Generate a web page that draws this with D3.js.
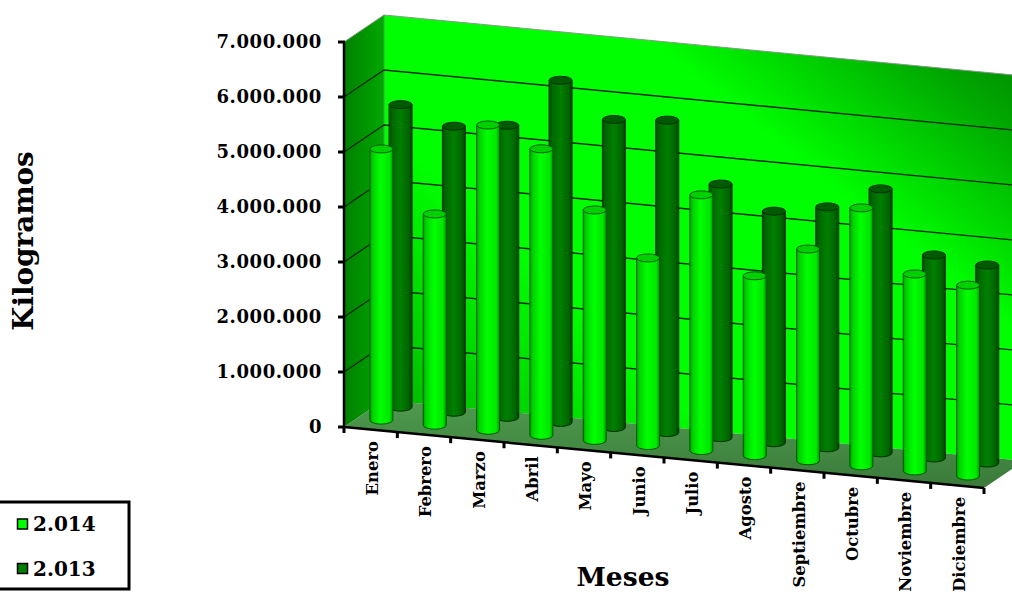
<!DOCTYPE html>
<html>
<head>
<meta charset="utf-8">
<script src="https://cdn.jsdelivr.net/npm/d3@7"></script>
<style>
  html, body { margin: 0; padding: 0; background: #fff; overflow: hidden; }
  text { font-family: "DejaVu Serif", serif; font-weight: bold; fill: #000; }
</style>
</head>
<body>
<svg id="chart" width="1012" height="594"></svg>
<script>
const months = ["Enero", "Febrero", "Marzo", "Abril", "Mayo", "Junio", "Julio", "Agosto", "Septiembre", "Octubre", "Noviembre", "Diciembre"];
const values2014 = [4930000, 3840000, 5550000, 5210000, 4190000, 3410000, 4650000, 3270000, 3850000, 4690000, 3580000, 3470000];
const values2013 = [5500000, 5200000, 5310000, 6220000, 5600000, 5680000, 4610000, 4210000, 4380000, 4800000, 3690000, 3600000];
const yTicks = [0, 1000000, 2000000, 3000000, 4000000, 5000000, 6000000, 7000000];
const seriesNames = ["2.014", "2.013"];

const svg = d3.select("#chart");
const defs = svg.append("defs");

// 3D box: front floor edge, depth vector and value height
const frontX = d3.scaleLinear().domain([0, 12]).range([344, 984]);
const frontY = d3.scaleLinear().domain([0, 12]).range([427, 488]);
const barHeight = d3.scaleLinear().domain([0, 7000000]).range([0, 385]);
const depthX = d3.scaleLinear().domain([0, 1]).range([0, 40]);
const depthY = d3.scaleLinear().domain([0, 1]).range([0, -27]);

// i = position along the months, d = depth into the box, v = value
const px = (i, d) => frontX(i) + depthX(d);
const py = (i, d, v) => frontY(i) + depthY(d) - barHeight(v);
const pt = (i, d, v) => [px(i, d), py(i, d, v)];
const poly = (pts) => "M" + pts.map((p) => p.join(",")).join("L") + "Z";

const maxValue = 7000000;

function gradient(id, stops, x1, y1, x2, y2, units) {
  const g = defs.append("linearGradient").attr("id", id)
    .attr("gradientUnits", units || "objectBoundingBox")
    .attr("x1", x1).attr("y1", y1).attr("x2", x2).attr("y2", y2);
  stops.forEach((s) => g.append("stop")
    .attr("offset", s[0]).attr("stop-color", s[1]).attr("stop-opacity", s.length > 2 ? s[2] : 1));
}
gradient("backWall", [[0.25, "#00ff00"], [0.5, "#00d800"], [0.8, "#00a800"], [1, "#009000"]], 850, 290, 1024, 70, "userSpaceOnUse");
gradient("backWallLow", [[0, "#00b800", 1], [1, "#00b800", 0]], 384, 400, 520, 250, "userSpaceOnUse");
gradient("sideWall", [[0, "#008000"], [1, "#00a800"]], 0, 0, 1, 0);
gradient("floor", [[0, "#4f9a4f"], [1, "#3a7a3a"]], 0, 0, 0, 1);
gradient("bar2014", [[0, "#00a000"], [0.12, "#00d000"], [0.45, "#00ff00"], [0.85, "#00e800"], [1, "#00a000"]], 0, 0, 1, 0);
gradient("bar2013", [[0, "#004c00"], [0.15, "#006800"], [0.5, "#008000"], [0.85, "#006400"], [1, "#004000"]], 0, 0, 1, 0);

// walls and floor
svg.append("path")
  .attr("d", poly([pt(0, 1, 0), pt(0, 1, maxValue), pt(12, 1, maxValue), pt(12, 1, 0)]))
  .attr("fill", "url(#backWall)");
svg.append("path")
  .attr("d", poly([pt(0, 1, 0), pt(0, 1, maxValue), pt(12, 1, maxValue), pt(12, 1, 0)]))
  .attr("fill", "url(#backWallLow)");
svg.append("path")
  .attr("d", poly([pt(0, 0, 0), pt(0, 0, maxValue), pt(0, 1, maxValue), pt(0, 1, 0)]))
  .attr("fill", "url(#sideWall)");
svg.append("path")
  .attr("d", poly([pt(0, 0, 0), pt(0, 1, 0), pt(12, 1, 0), pt(12, 0, 0)]))
  .attr("fill", "url(#floor)");

// wall edges
svg.append("path")
  .attr("d", "M" + pt(0, 0, maxValue).join(",") + "L" + pt(0, 1, maxValue).join(",") + "L" + pt(12, 1, maxValue).join(","))
  .attr("fill", "none").attr("stroke", "#8a9a8a").attr("stroke-width", 1);
svg.append("line")
  .attr("x1", px(0, 1)).attr("x2", px(0, 1))
  .attr("y1", py(0, 1, 0)).attr("y2", py(0, 1, maxValue))
  .attr("stroke", "#4f9a4f").attr("stroke-width", 1);

// gridlines over both walls
svg.append("g").selectAll("path")
  .data(yTicks.slice(1, -1))
  .join("path")
  .attr("d", (v) => "M" + pt(0, 0, v).join(",") + "L" + pt(0, 1, v).join(",") + "L" + pt(12, 1, v).join(","))
  .attr("fill", "none").attr("stroke", "#0a2a0a").attr("stroke-width", 1.4);

// cylinders
const bandOffset = 0.446; // months units from the tick to the bar axis
const barR = 11.5;
const barRy = 4;

function drawBars(values, depth, fill, cap, edge) {
  const g = svg.append("g");
  values.forEach((v, i) => {
    const cx = px(i + bandOffset, depth);
    const yBase = py(i + bandOffset, depth, 0);
    const yTop = py(i + bandOffset, depth, v);
    g.append("path")
      .attr("d", `M${cx - barR},${yTop}L${cx - barR},${yBase}A${barR},${barRy} 0 0 0 ${cx + barR},${yBase}L${cx + barR},${yTop}Z`)
      .attr("fill", fill).attr("stroke", edge).attr("stroke-width", 1);
    g.append("ellipse")
      .attr("cx", cx).attr("cy", yTop).attr("rx", barR).attr("ry", barRy)
      .attr("fill", cap).attr("stroke", edge).attr("stroke-width", 1);
  });
}
drawBars(values2013, 0.82, "url(#bar2013)", "#005a00", "#013001");
drawBars(values2014, 0.34, "url(#bar2014)", "#00d000", "#015a01");

// value axis
svg.append("line")
  .attr("x1", px(0, 0)).attr("x2", px(0, 0))
  .attr("y1", py(0, 0, 0)).attr("y2", py(0, 0, maxValue))
  .attr("stroke", "#000").attr("stroke-width", 2.5);
svg.append("g").selectAll("line")
  .data(yTicks)
  .join("line")
  .attr("x1", px(0, 0) - 6).attr("x2", px(0, 0) + 1)
  .attr("y1", (v) => py(0, 0, v)).attr("y2", (v) => py(0, 0, v))
  .attr("stroke", "#000").attr("stroke-width", 3);
svg.append("g").selectAll("text")
  .data(yTicks)
  .join("text")
  .attr("x", 322)
  .attr("y", (v) => py(0, 0, v))
  .attr("dy", "0.36em")
  .attr("text-anchor", "end")
  .attr("font-size", 18)
  .attr("letter-spacing", 0.6)
  .text((v) => d3.format(",")(v).replace(/,/g, "."));

// month axis
svg.append("line")
  .attr("x1", frontX(0)).attr("x2", frontX(12))
  .attr("y1", frontY(0)).attr("y2", frontY(12))
  .attr("stroke", "#000").attr("stroke-width", 2.5);
svg.append("g").selectAll("line")
  .data(d3.range(13))
  .join("line")
  .attr("x1", (i) => frontX(i)).attr("x2", (i) => frontX(i))
  .attr("y1", (i) => frontY(i)).attr("y2", (i) => frontY(i) + 6)
  .attr("stroke", "#000").attr("stroke-width", 3);
svg.append("g").selectAll("text")
  .data(months)
  .join("text")
  .attr("transform", (d, i) => `translate(${frontX(i) + 28},${frontY(i) + 14}) rotate(-90)`)
  .attr("dy", "0.36em")
  .attr("text-anchor", "end")
  .attr("font-size", 16.4)
  .text((d) => d);

// axis titles
svg.append("text")
  .attr("transform", "translate(23,241) rotate(-90)")
  .attr("dy", "0.36em")
  .attr("text-anchor", "middle")
  .attr("font-size", 27.8)
  .text("Kilogramos");
svg.append("text")
  .attr("x", 623).attr("y", 586)
  .attr("text-anchor", "middle")
  .attr("font-size", 26.6)
  .text("Meses");

// legend, the box runs off the left edge
svg.append("rect")
  .attr("x", -10).attr("y", 502).attr("width", 139).attr("height", 87)
  .attr("fill", "#fff").attr("stroke", "#000").attr("stroke-width", 3);
const legendFill = ["#00ff00", "#008000"];
const legendY = d3.scalePoint().domain(seriesNames).range([524, 568.5]);
seriesNames.forEach((name, i) => {
  svg.append("rect")
    .attr("x", 17.5).attr("y", legendY(name) - 5).attr("width", 10).attr("height", 10)
    .attr("fill", legendFill[i]).attr("stroke", "#000").attr("stroke-width", 1.5);
  svg.append("text")
    .attr("x", 33).attr("y", legendY(name))
    .attr("dy", "0.36em")
    .attr("font-size", 20)
    .text(name);
});
</script>
</body>
</html>
